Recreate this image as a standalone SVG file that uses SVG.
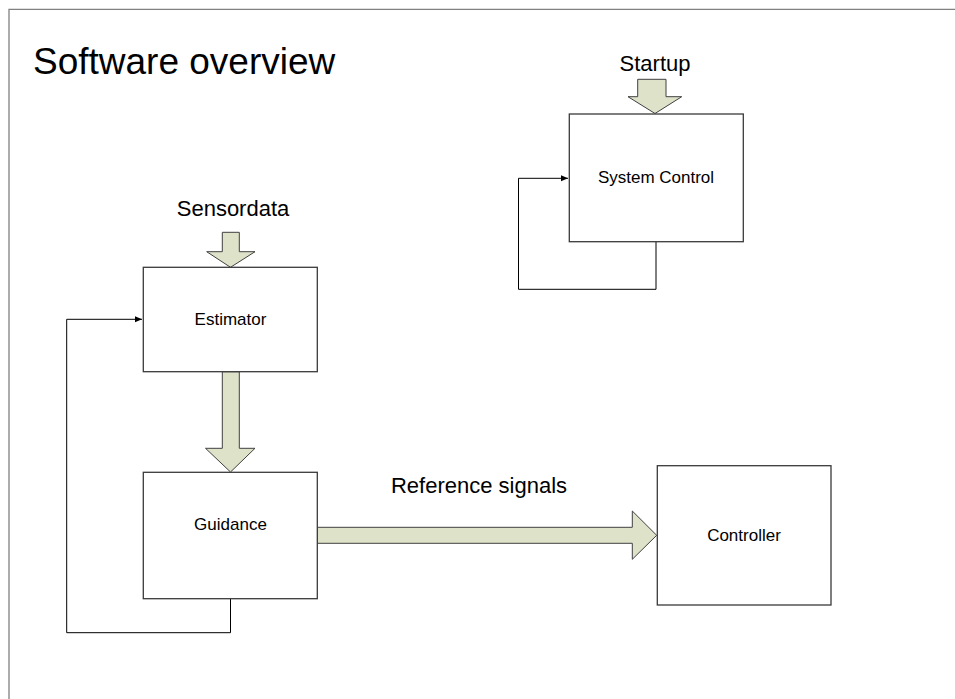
<svg xmlns="http://www.w3.org/2000/svg" width="955" height="699" viewBox="0 0 955 699">
<style>
text{font-family:"Liberation Sans",Arial,sans-serif;fill:#000}
.box{fill:#fff;stroke:#3a3a3a;stroke-width:1.3}
.big{fill:#dde2c9;stroke:#404040;stroke-width:1}
.lbl{font-size:17px;text-anchor:middle}
.cap{font-size:22px;text-anchor:middle}
.fb{fill:none;stroke:#000;stroke-width:1}
</style>
<defs>
<marker id="ah" markerWidth="8" markerHeight="8" refX="7" refY="4" orient="auto" markerUnits="userSpaceOnUse">
<path d="M0,1 L7,4 L0,7 Z" fill="#000"/>
</marker>
</defs>
<rect width="955" height="699" fill="#fff"/>
<path d="M9,699 V9.3 H955" fill="none" stroke="#808080" stroke-width="1.3"/>
<text x="33" y="74" font-size="37">Software overview</text>

<g id="connectors">
<path class="fb" d="M656,241.7 V289.3 H518.5 V178.3 H568" marker-end="url(#ah)"/>
<path class="fb" d="M230.5,598.7 V632.7 H66.7 V319.3 H142" marker-end="url(#ah)"/>
<path class="big" d="M637.7,79.3 H666 V96.7 H681.7 L655,113.5 L628,96.7 H637.7 Z"/>
<path class="big" d="M222.3,232.3 H239.3 V251.7 H255 L230.5,267.3 L206.7,251.7 H222.3 Z"/>
<path class="big" d="M222.3,371.7 H239.3 V448.3 H255 L230.5,472 L205.5,448.3 H222.3 Z"/>
<path class="big" d="M317.3,527.3 H632.3 V511 L656.7,535.3 L632.3,559.3 V543.3 H317.3 Z"/>
<text class="cap" x="655" y="70.7">Startup</text>
<text class="cap" x="233" y="216">Sensordata</text>
<text class="cap" x="479" y="493.3">Reference signals</text>
</g>

<g id="system-control">
<rect class="box" x="569.3" y="114" width="174" height="127.7"/>
<text class="lbl" x="656" y="182.7">System Control</text>
</g>
<g id="estimator">
<rect class="box" x="143.3" y="267.3" width="174" height="104.4"/>
<text class="lbl" x="230.5" y="325">Estimator</text>
</g>
<g id="guidance">
<rect class="box" x="143.3" y="472.3" width="174" height="126.4"/>
<text class="lbl" x="230.5" y="530">Guidance</text>
</g>
<g id="controller">
<rect class="box" x="657.3" y="465.7" width="173.7" height="139.3"/>
<text class="lbl" x="744" y="540.7">Controller</text>
</g>
</svg>
